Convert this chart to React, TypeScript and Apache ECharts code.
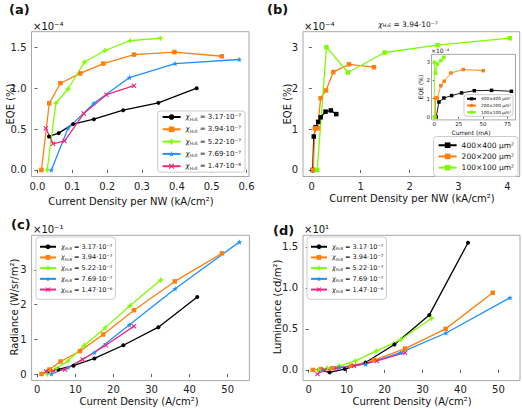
import React, { useEffect, useRef } from 'react';
import * as echarts from 'echarts';

// ---------- Data ----------
const chiValues = ['3.17·10⁻⁷', '3.94·10⁻⁷', '5.22·10⁻⁷', '7.69·10⁻⁷', '1.47·10⁻⁶'];
const chiNames = chiValues.map((v) => 'χH₂S = ' + v);
const sizeNames = ['400×400 μm²', '200×200 μm²', '100×100 μm²'];

// (a) EQE (×1e-4 %) vs current density per NW (kA/cm²)
const aBlackX = [0.033, 0.061, 0.102, 0.162, 0.246, 0.347, 0.457];
const aBlackY = [0.41, 0.45, 0.56, 0.62, 0.73, 0.82, 1.0];
const aOrangeX = [0.0115, 0.034, 0.066, 0.123, 0.189, 0.277, 0.393, 0.529];
const aOrangeY = [0, 0.815, 1.06, 1.18, 1.3, 1.41, 1.44, 1.39];
const aGreenX = [0.028, 0.053, 0.088, 0.135, 0.194, 0.266, 0.353];
const aGreenY = [0, 0.815, 0.99, 1.32, 1.46, 1.58, 1.61];
const aBlueX = [0.04, 0.088, 0.162, 0.264, 0.395, 0.579];
const aBlueY = [0, 0.51, 0.815, 1.13, 1.3, 1.35];
const aPinkX = [0.024, 0.045, 0.078, 0.133, 0.198, 0.277];
const aPinkY = [0.51, 0.32, 0.355, 0.69, 0.92, 1.03];

// (b) main: EQE vs current density per NW for pad sizes
const bBlackX = [0.02, 0.04, 0.08, 0.13, 0.18, 0.28, 0.39, 0.5];
const bBlackY = [0, 0.82, 1.05, 1.18, 1.29, 1.43, 1.46, 1.37];
const bOrangeX = [0.03, 0.06, 0.12, 0.18, 0.29, 0.44, 0.76, 1.27];
const bOrangeY = [0, 1.02, 1.02, 1.76, 1.95, 2.4, 2.59, 2.52];
const bGreenX = [0.11, 0.3, 0.74, 1.49, 2.57, 4.05];
const bGreenY = [0, 3.01, 2.39, 2.88, 3.06, 3.23];

// (b) inset: EQE vs current (mA)
const iBlackX = [2, 4.8, 9.9, 17.8, 28, 41, 58.7, 79];
const iBlackY = [0, 0.82, 1.04, 1.17, 1.32, 1.44, 1.46, 1.41];
const iOrangeX = [1.0, 1.4, 3.1, 6.8, 10.2, 17.1, 29.7, 50.2];
const iOrangeY = [0, 1.04, 1.04, 1.72, 1.96, 2.41, 2.6, 2.54];
const iGreenX = [0.1, 0.2, 1.4, 3.4, 6.8, 9.9];
const iGreenY = [0, 3.0, 2.4, 2.9, 3.09, 3.27];

// (c)/(d) current density (A/cm²)
const cdBlackX = [2.7, 5.5, 9.5, 15.0, 22.6, 31.8, 42.0];
const cdOrangeX = [1.1, 3.2, 6.1, 11.2, 17.3, 25.4, 36.1, 48.5];
const cdGreenX = [2.6, 4.9, 8.1, 12.3, 17.8, 24.3, 32.4];
const cdBlueX = [3.7, 8.1, 15.0, 24.2, 36.2, 53.1];
const cdPinkX = [2.3, 4.2, 7.3, 11.9, 18.0, 25.4];

// (c) radiance (×1e-1 W/sr/m²)
const cBlackY = [0.07, 0.13, 0.24, 0.45, 0.83, 1.35, 2.22];
const cOrangeY = [0, 0.13, 0.36, 0.66, 1.14, 1.84, 2.67, 3.48];
const cGreenY = [0, 0.16, 0.38, 0.82, 1.33, 1.97, 2.71];
const cBlueY = [0, 0.19, 0.62, 1.42, 2.46, 3.81];
const cPinkY = [0.07, 0.09, 0.13, 0.42, 0.83, 1.38];

// (d) luminance (×1e1 cd/m²)
const dBlackY = [0.0, -0.03, 0.01, 0.09, 0.31, 0.67, 1.55];
const dOrangeY = [0, 0.01, 0.02, 0.05, 0.12, 0.26, 0.5, 0.94];
const dGreenY = [0, 0.02, 0.05, 0.11, 0.23, 0.37, 0.63];
const dBlueY = [0, 0.03, 0.07, 0.21, 0.45, 0.88];
const dPinkY = [-0.05, 0.0, 0.02, 0.05, 0.11, 0.21];

// tick values
const aXTicks = [0, 0.1, 0.2, 0.3, 0.4, 0.5, 0.6];
const aYTicks = [0, 0.5, 1.0, 1.5];
const bXTicks = [0, 1, 2, 3, 4];
const bYTicks = [0, 1, 2, 3];
const iXTicks = [0, 25, 50, 75];
const iYTicks = [0, 1, 2, 3];
const cXTicks = [0, 10, 20, 30, 40, 50];
const cYTicks = [0, 1, 2, 3];
const dXTicks = [0, 10, 20, 30, 40, 50];
const dYTicks = [0, 0.5, 1.0, 1.5];

// ---------- Styles ----------
const FF = 'DejaVu Sans';
const COLORS = ['#000000', '#ff7f0e', '#7cfc00', '#1e90ff', '#f0287d'];
const PLUS = 'path://M3.6,0H6.4V3.6H10V6.4H6.4V10H3.6V6.4H0V3.6H3.6Z';
const XSYM = 'path://M0,1.5L1.5,0L5,3.5L8.5,0L10,1.5L6.5,5L10,8.5L8.5,10L5,6.5L1.5,10L0,8.5L3.5,5Z';
const STAR = 'path://M5,0L6.2,3.5L10,3.6L7,5.9L8.1,9.6L5,7.4L1.9,9.6L3,5.9L0,3.6L3.8,3.5Z';
const SYMS = ['circle', 'rect', PLUS, STAR, XSYM];
const SYMSIZES = [4, 4.5, 5, 5.5, 5];

const richLabel: Record<string, string> = {};
chiNames.forEach((n, i) => {
  richLabel[n] = '{c|χ}{s|H₂S} = ' + chiValues[i];
});

function chiRich(fs: number) {
  return {
    c: { fontSize: fs, fontStyle: 'italic', fontFamily: FF, color: '#111' },
    s: { fontSize: fs * 0.62, fontStyle: 'italic', fontFamily: FF, color: '#111', verticalAlign: 'bottom' },
  };
}

function line(name: string, xs: number[], ys: number[], color: string, symbol: string, size: number, idx: number, lw = 1.3) {
  return {
    type: 'line',
    name,
    xAxisIndex: idx,
    yAxisIndex: idx,
    data: xs.map((x, i) => [x, ys[i]]),
    symbol,
    symbolSize: size,
    showSymbol: true,
    itemStyle: { color },
    lineStyle: { color, width: lw },
    emphasis: { disabled: true },
    z: 3,
  };
}

function axis(gridIndex: number, min: number, max: number, ticks: number[], fmt: (v: number) => string, fs = 10, tl = 3, mg = 5) {
  return {
    type: 'value',
    gridIndex,
    min,
    max,
    axisLine: { show: false },
    splitLine: { show: false },
    axisTick: { show: true, length: tl, lineStyle: { color: '#333', width: 0.8 }, customValues: ticks },
    axisLabel: { customValues: ticks, formatter: fmt, fontSize: fs, fontFamily: FF, color: '#222', margin: mg },
  };
}

function legend(names: string[], pos: any, fs: number, lh: number, gap: number, pad: number[], iw: number, ih: number) {
  return {
    show: true,
    orient: 'vertical',
    ...pos,
    data: names,
    selectedMode: false,
    backgroundColor: 'rgba(255,255,255,0.9)',
    borderColor: '#cccccc',
    borderWidth: 1,
    borderRadius: 3,
    padding: pad,
    itemGap: gap,
    itemWidth: iw,
    itemHeight: ih,
    align: 'left',
    formatter: (n: string) => richLabel[n] ?? n,
    textStyle: { fontSize: fs, fontFamily: FF, color: '#111', lineHeight: lh, rich: chiRich(fs) },
  };
}

function txt(x: number, y: number, text: string, font: string, opts: any = {}) {
  return {
    type: 'text',
    x,
    y,
    rotation: opts.rotation ?? 0,
    style: {
      text,
      font,
      fill: '#111',
      align: opts.align ?? 'center',
      verticalAlign: 'middle',
      rich: opts.rich,
    },
    z: 10,
  };
}

const f1 = (v: number) => v.toFixed(1);
const f0 = (v: number) => String(Math.round(v));

export default function App() {
  const ref = useRef<HTMLDivElement>(null);
  useEffect(() => {
    if (!ref.current) return;
    const chart = echarts.init(ref.current, undefined, { renderer: 'svg' });
    const gridStyle = { show: true, borderColor: '#a8a8a8', borderWidth: 1, backgroundColor: '#ffffff', containLabel: false, outerBoundsMode: 'none' };

    const series: any[] = [];
    // (a)
    const aX = [aBlackX, aOrangeX, aGreenX, aBlueX, aPinkX];
    const aY = [aBlackY, aOrangeY, aGreenY, aBlueY, aPinkY];
    aX.forEach((xs, i) => series.push(line(chiNames[i], xs, aY[i], COLORS[i], SYMS[i], SYMSIZES[i], 0)));
    // (b) main
    const bX = [bBlackX, bOrangeX, bGreenX];
    const bY = [bBlackY, bOrangeY, bGreenY];
    bX.forEach((xs, i) => series.push(line(sizeNames[i], xs, bY[i], COLORS[i], 'rect', 4.5, 1)));
    // (b) inset
    const iX = [iBlackX, iOrangeX, iGreenX];
    const iY = [iBlackY, iOrangeY, iGreenY];
    iX.forEach((xs, i) => series.push(line(sizeNames[i], xs, iY[i], COLORS[i], 'rect', 3.5, 2, 0.9)));
    // (c), (d)
    const cdX = [cdBlackX, cdOrangeX, cdGreenX, cdBlueX, cdPinkX];
    const cY = [cBlackY, cOrangeY, cGreenY, cBlueY, cPinkY];
    const dY = [dBlackY, dOrangeY, dGreenY, dBlueY, dPinkY];
    cdX.forEach((xs, i) => series.push(line(chiNames[i], xs, cY[i], COLORS[i], SYMS[i], SYMSIZES[i], 3)));
    cdX.forEach((xs, i) => series.push(line(chiNames[i], xs, dY[i], COLORS[i], SYMS[i], SYMSIZES[i], 4)));

    const titleFont = '10px "DejaVu Sans"';
    const chiTextRich = chiRich(7.5);

    chart.setOption({
      animation: false,
      backgroundColor: '#ffffff',
      grid: [
        { ...gridStyle, left: 31.5, top: 31.7, width: 217.5, height: 144.8 },
        { ...gridStyle, left: 303, top: 31.7, width: 216.7, height: 144.8 },
        { ...gridStyle, left: 431.5, top: 54.4, width: 84, height: 65.5 },
        { ...gridStyle, left: 31.6, top: 235.3, width: 217.8, height: 145.3 },
        { ...gridStyle, left: 303, top: 235.3, width: 217, height: 145.3 },
      ],
      xAxis: [
        axis(0, -0.017, 0.607, aXTicks, f1),
        axis(1, -0.18, 4.25, bXTicks, f0),
        axis(2, -2.8, 83.2, iXTicks, f0, 5.5, 1.5, 1.5),
        axis(3, -1.5, 55.7, cXTicks, f0, 10, 3, 4),
        axis(4, -1.5, 55.7, dXTicks, f0, 10, 3, 4),
      ],
      yAxis: [
        axis(0, -0.08, 1.69, aYTicks, f1),
        axis(1, -0.16, 3.39, bYTicks, f0),
        axis(2, -0.16, 3.43, iYTicks, f0, 5.5, 1.5, 1.5),
        axis(3, -0.19, 4.0, cYTicks, f0),
        axis(4, -0.13, 1.64, dYTicks, f1),
      ],
      legend: [
        legend(chiNames, { right: 277, top: 111 }, 7, 8, 4.3, [2, 4, 2, 4], 18, 7),
        legend(sizeNames, { right: 4, top: 136.5 }, 7.5, 8.5, 2.7, [4.5, 4, 4.5, 4], 18, 7),
        legend(sizeNames, { right: 9, top: 94.7 }, 4.3, 5, 1.7, [1.6, 2, 1.6, 2], 9, 4),
        legend(chiNames, { left: 36, top: 237 }, 6.5, 7.5, 3.2, [6, 3, 6, 3], 16, 6),
        legend(chiNames, { left: 307, top: 237 }, 6.5, 7.5, 3.2, [6, 3, 6, 3], 16, 6),
      ],
      graphic: [
        txt(9, 9, '(a)', 'bold 13px "DejaVu Sans"', { align: 'left' }),
        txt(267, 9, '(b)', 'bold 13px "DejaVu Sans"', { align: 'left' }),
        txt(11, 224, '(c)', 'bold 13px "DejaVu Sans"', { align: 'left' }),
        txt(273, 230, '(d)', 'bold 13px "DejaVu Sans"', { align: 'left' }),
        txt(33, 26, '×10⁻⁴', titleFont, { align: 'left' }),
        txt(304, 26, '×10⁻⁴', titleFont, { align: 'left' }),
        txt(431, 50.5, '×10⁻⁴', '6px "DejaVu Sans"', { align: 'left' }),
        txt(33, 229, '×10⁻¹', titleFont, { align: 'left' }),
        txt(304, 229, '×10¹', titleFont, { align: 'left' }),
        txt(408, 24, '{c|χ}{s|H₂S} = 3.94·10⁻⁷', '7.5px "DejaVu Sans"', { rich: chiTextRich }),
        txt(10, 104, 'EQE (%)', titleFont, { rotation: Math.PI / 2 }),
        txt(287, 104, 'EQE (%)', titleFont, { rotation: Math.PI / 2 }),
        txt(420.5, 87, 'EQE (%)', '6px "DejaVu Sans"', { rotation: Math.PI / 2 }),
        txt(14, 307, 'Radiance (W/sr/m²)', titleFont, { rotation: Math.PI / 2 }),
        txt(277, 307, 'Luminance (cd/m²)', titleFont, { rotation: Math.PI / 2 }),
        txt(131, 201, 'Current Density per NW (kA/cm²)', titleFont),
        txt(412, 198, 'Current Density per NW (kA/cm²)', titleFont),
        txt(471, 132, 'Current (mA)', '6px "DejaVu Sans"'),
        txt(139, 401, 'Current Density (A/cm²)', titleFont),
        txt(412, 401, 'Current Density (A/cm²)', titleFont),
      ],
      series,
    });
    return () => chart.dispose();
  }, []);
  return <div ref={ref} style={{ position: 'fixed', left: 0, top: 0, width: 522, height: 409, background: '#fff' }} />;
}
